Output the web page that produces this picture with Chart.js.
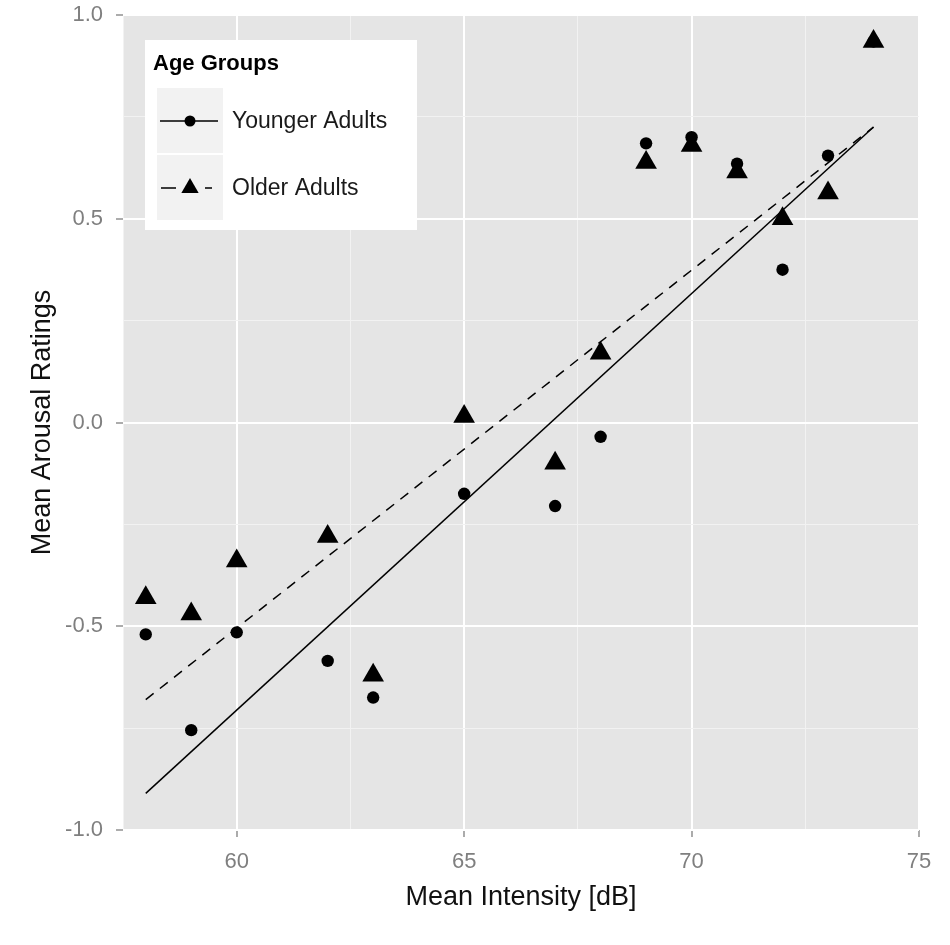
<!DOCTYPE html>
<html>
<head>
<meta charset="utf-8">
<script src="https://cdn.jsdelivr.net/npm/chart.js@4/dist/chart.umd.min.js"></script>
<style>
  html, body { margin: 0; padding: 0; background: #fff; }
  #wrap { width: 950px; height: 945px; position: relative; }
</style>
</head>
<body>
<div id="wrap"><canvas id="myChart"></canvas></div>
<script>
// values
const intensity = [58, 59, 60, 62, 63, 65, 67, 68, 69, 70, 71, 72, 73, 74];
const youngerRatings = [-0.52, -0.755, -0.515, -0.585, -0.675, -0.175, -0.205, -0.035, 0.685, 0.70, 0.635, 0.375, 0.655, 0.935];
const olderRatings = [-0.43, -0.47, -0.34, -0.28, -0.62, 0.015, -0.10, 0.17, 0.638, 0.68, 0.615, 0.50, 0.563, 0.935];

// fitted lines (end points)
const fitRange = [58, 74];
const youngerFit = [-0.91, 0.725];
const olderFit = [-0.68, 0.725];

const xTickLabels = [60, 65, 70, 75];
const yTickLabels = [-1.0, -0.5, 0.0, 0.5, 1.0];

const legendTitle = "Age Groups";
const groupNames = ["Younger Adults", "Older Adults"];

const FONT = "'Liberation Sans', Arial, sans-serif";

const toPoints = (xs, ys) => xs.map((x, i) => ({ x: x, y: ys[i] }));
const isMajorX = v => xTickLabels.some(t => Math.abs(t - v) < 1e-6);
const isMajorY = v => yTickLabels.some(t => Math.abs(t - v) < 1e-6);

// grey panel behind the grid
const panelBg = {
  id: "panelBg",
  beforeDraw(chart) {
    const { ctx, chartArea: a } = chart;
    ctx.save();
    ctx.fillStyle = "#e5e5e5";
    ctx.fillRect(a.left, a.top, a.right - a.left, a.bottom - a.top);
    ctx.restore();
  }
};

// ggplot style legend box inside the panel
const ggLegend = {
  id: "ggLegend",
  afterDraw(chart) {
    const ctx = chart.ctx;
    ctx.save();
    ctx.fillStyle = "#fff";
    ctx.fillRect(145, 40, 272, 190);

    ctx.fillStyle = "#000";
    ctx.font = "bold 22px " + FONT;
    ctx.textBaseline = "middle";
    ctx.textAlign = "left";
    ctx.fillText(legendTitle, 153, 64);

    const rows = [121, 188];
    rows.forEach((cy, i) => {
      ctx.fillStyle = "#f2f2f2";
      ctx.fillRect(157, cy - 33, 66, 65);

      ctx.strokeStyle = "#000";
      ctx.lineWidth = 1.6;
      ctx.beginPath();
      if (i === 0) {
        ctx.moveTo(160, cy);
        ctx.lineTo(218, cy);
      } else {
        ctx.moveTo(161, cy);
        ctx.lineTo(176, cy);
        ctx.moveTo(205, cy);
        ctx.lineTo(212, cy);
      }
      ctx.stroke();

      ctx.fillStyle = "#000";
      ctx.beginPath();
      if (i === 0) {
        ctx.arc(190, cy, 5.5, 0, Math.PI * 2);
      } else {
        const r = 10;
        ctx.moveTo(190, cy - r);
        ctx.lineTo(190 + r * Math.sin(2 * Math.PI / 3), cy + r / 2);
        ctx.lineTo(190 - r * Math.sin(2 * Math.PI / 3), cy + r / 2);
        ctx.closePath();
      }
      ctx.fill();

      ctx.fillStyle = "#1a1a1a";
      ctx.font = "23px " + FONT;
      ctx.fillText(groupNames[i], 232, cy + 1);
    });
    ctx.restore();
  }
};

new Chart("myChart", {
  type: "scatter",
  data: {
    datasets: [
      {
        type: "line",
        data: toPoints(fitRange, youngerFit),
        borderColor: "#000",
        borderWidth: 1.5,
        pointRadius: 0,
        fill: false
      },
      {
        type: "line",
        data: toPoints(fitRange, olderFit),
        borderColor: "#000",
        borderWidth: 1.5,
        borderDash: [10, 8],
        pointRadius: 0,
        fill: false
      },
      {
        label: groupNames[1],
        data: toPoints(intensity, olderRatings),
        pointStyle: "triangle",
        pointRadius: 12.5,
        backgroundColor: "#000",
        borderWidth: 0
      },
      {
        label: groupNames[0],
        data: toPoints(intensity, youngerRatings),
        pointStyle: "circle",
        pointRadius: 6.2,
        backgroundColor: "#000",
        borderWidth: 0
      }
    ]
  },
  options: {
    responsive: true,
    maintainAspectRatio: false,
    animation: false,
    layout: { padding: { top: 15, right: 31, bottom: 0, left: 0 } },
    plugins: {
      legend: { display: false },
      tooltip: { enabled: false }
    },
    scales: {
      x: {
        type: "linear",
        min: 57.5,
        max: 75,
        border: { display: false },
        grid: {
          color: c => isMajorX(c.tick.value) ? "#ffffff" : "#f2f2f2",
          lineWidth: c => isMajorX(c.tick.value) ? 2 : 1,
          tickColor: c => isMajorX(c.tick.value) ? "#7f7f7f" : "rgba(0,0,0,0)",
          tickWidth: 1.3,
          tickLength: 7
        },
        ticks: {
          stepSize: 2.5,
          autoSkip: false,
          maxRotation: 0,
          padding: 12,
          color: "#7f7f7f",
          font: { family: FONT, size: 22 },
          callback: v => isMajorX(v) ? String(Math.round(v)) : ""
        },
        title: {
          display: true,
          text: "Mean Intensity [dB]",
          color: "#111",
          font: { family: FONT, size: 27 },
          padding: { top: 0, bottom: 31 }
        },
        afterFit: s => {
          s.height = 115;
          s.paddingLeft = 0;
          s.paddingRight = 0;
        }
      },
      y: {
        type: "linear",
        min: -1,
        max: 1,
        border: { display: false },
        grid: {
          color: c => isMajorY(c.tick.value) ? "#ffffff" : "#f2f2f2",
          lineWidth: c => isMajorY(c.tick.value) ? 2 : 1,
          tickColor: c => isMajorY(c.tick.value) ? "#7f7f7f" : "rgba(0,0,0,0)",
          tickWidth: 1.3,
          tickLength: 7
        },
        ticks: {
          stepSize: 0.25,
          autoSkip: false,
          padding: 13,
          color: "#7f7f7f",
          font: { family: FONT, size: 22 },
          callback: v => isMajorY(v) ? Number(v).toFixed(1) : ""
        },
        title: {
          display: true,
          text: "Mean Arousal Ratings",
          color: "#111",
          font: { family: FONT, size: 27 },
          padding: { top: 26, bottom: 0 }
        },
        afterFit: s => {
          s.width = 123;
          s.paddingTop = 0;
          s.paddingBottom = 0;
        }
      }
    }
  },
  plugins: [panelBg, ggLegend]
});
</script>
</body>
</html>
